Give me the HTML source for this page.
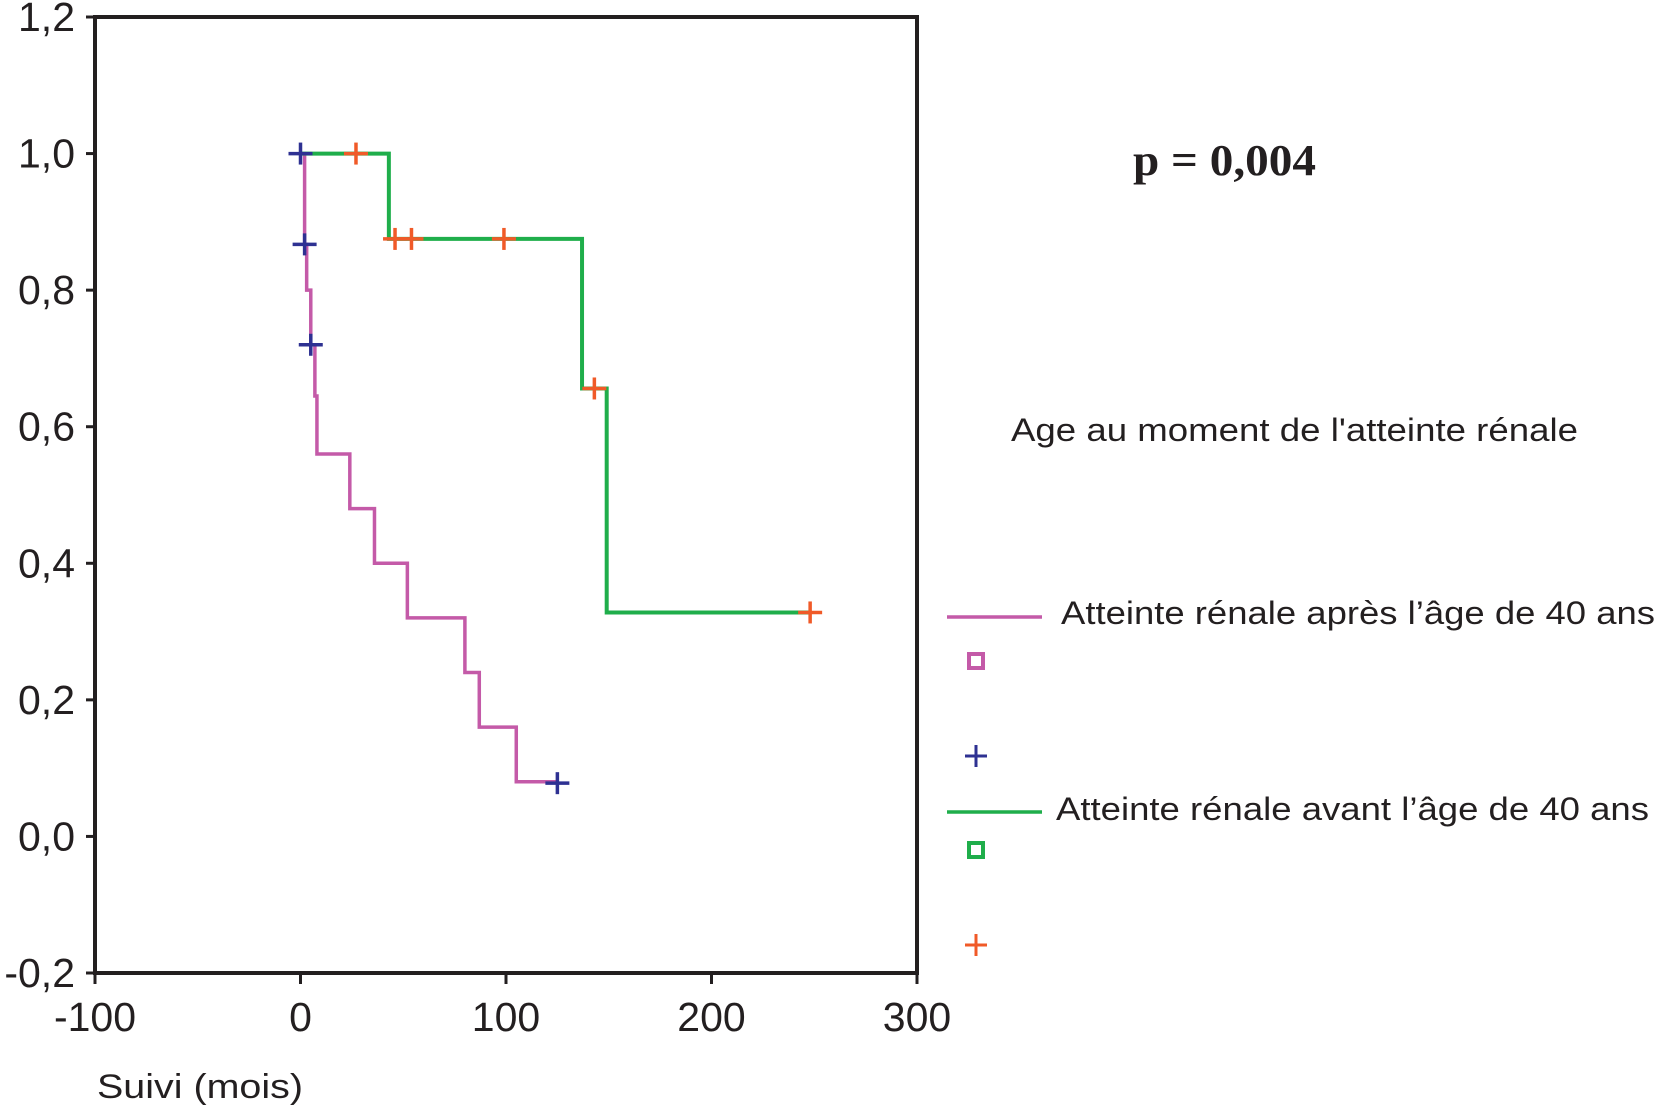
<!DOCTYPE html>
<html><head><meta charset="utf-8"><style>
html,body{margin:0;padding:0;background:#fff;}
svg{display:block;}
text{font-family:"Liberation Sans",sans-serif;fill:#231f20;}
</style></head><body>
<svg id="chart" width="1658" height="1111" viewBox="0 0 1658 1111">
<rect x="95" y="17" width="822" height="956" fill="none" stroke="#231f20" stroke-width="4"/>
<g id="axes"></g>
<g id="series"></g>
<text x="1133" y="175" font-weight="bold" font-size="44" textLength="183" lengthAdjust="spacingAndGlyphs" style="font-family:'Liberation Serif',serif">p = 0,004</text>
<text x="1011" y="441" font-size="32" textLength="567" lengthAdjust="spacingAndGlyphs">Age au moment de l'atteinte rénale</text>
<line x1="947" y1="617" x2="1042" y2="617" stroke="#c45aa8" stroke-width="3.5"/>
<text x="1061" y="624" font-size="32" textLength="594" lengthAdjust="spacingAndGlyphs">Atteinte rénale après l’âge de 40 ans</text>
<rect x="969" y="654" width="14" height="14" fill="none" stroke="#c45aa8" stroke-width="4"/>
<g stroke="#2e3192" stroke-width="3"><line x1="965" y1="756" x2="987" y2="756"/><line x1="976" y1="745" x2="976" y2="767"/></g>
<line x1="947" y1="812" x2="1042" y2="812" stroke="#1fae4b" stroke-width="3.5"/>
<text x="1056" y="820" font-size="32" textLength="593" lengthAdjust="spacingAndGlyphs">Atteinte rénale avant l’âge de 40 ans</text>
<rect x="969" y="843" width="14" height="14" fill="none" stroke="#1fae4b" stroke-width="4"/>
<g stroke="#f05a28" stroke-width="3"><line x1="965" y1="945" x2="987" y2="945"/><line x1="976" y1="934" x2="976" y2="956"/></g>
<text x="97" y="1098" font-size="34" textLength="206" lengthAdjust="spacingAndGlyphs">Suivi (mois)</text>
</svg>
<script>
const xTicks=[-100,0,100,200,300];
const yTicks=[-0.2,0,0.2,0.4,0.6,0.8,1.0,1.2];
const yTickLabels=["-0,2","0,0","0,2","0,4","0,6","0,8","1,0","1,2"];
const apresTimes=[0,2,3,5,7,8,24,36,52,80,87,105];
const apresSurv=[1,0.867,0.8,0.72,0.645,0.56,0.48,0.40,0.32,0.24,0.16,0.08];
const apresEnd=125;
const apresCensorT=[0,2,5,125];
const apresCensorS=[1,0.867,0.72,0.078];
const avantTimes=[0,43,137,149];
const avantSurv=[1,0.875,0.656,0.328];
const avantEnd=248;
const avantCensorT=[27,46,54,99,143,248];
const avantCensorS=[1,0.875,0.875,0.875,0.656,0.328];

const NS="http://www.w3.org/2000/svg";
function X(v){return 95+(v+100)*822/400;}
function Y(v){return 973-(v+0.2)*956/1.4;}
const axes=document.getElementById('axes');
const series=document.getElementById('series');
function mk(tag,attrs,parent){const e=document.createElementNS(NS,tag);for(const k in attrs)e.setAttribute(k,attrs[k]);parent.appendChild(e);return e;}
yTicks.forEach((v,i)=>{
  const l=mk('line',{x1:86,x2:95,y1:Y(v),y2:Y(v),stroke:'#231f20','stroke-width':3},axes);
  
  
  const t=mk('text',{x:75,y:Y(v)+14,'text-anchor':'end','font-size':41},axes);
  t.textContent=yTickLabels[i];
  
  
});
xTicks.forEach(v=>{
  const l=mk('line',{x1:X(v),x2:X(v),y1:973,y2:984,stroke:'#231f20','stroke-width':3},axes);
  
  
  const t=mk('text',{x:X(v),y:1031,'text-anchor':'middle','font-size':41},axes);
  t.textContent=String(v);
  
  
});
function stepPath(ts,ss,end){
  let d='M'+X(ts[0])+','+Y(ss[0]);
  for(let i=1;i<ts.length;i++){d+=' H'+X(ts[i])+' V'+Y(ss[i]);}
  d+=' H'+X(end);return d;
}
const p1=mk('path',{d:stepPath(apresTimes,apresSurv,apresEnd),fill:'none',stroke:'#c45aa8','stroke-width':3.5},series);


const p2=mk('path',{d:stepPath(avantTimes,avantSurv,avantEnd),fill:'none',stroke:'#1fae4b','stroke-width':4},series);


function censor(t,s,col,name){
  const g=mk('g',{stroke:col,'stroke-width':3.5},series);
  
  
  mk('line',{x1:X(t)-12,x2:X(t)+12,y1:Y(s),y2:Y(s)},g);
  mk('line',{x1:X(t),x2:X(t),y1:Y(s)-11,y2:Y(s)+11},g);
}
apresCensorT.forEach((t,i)=>censor(t,apresCensorS[i],'#2e3192','censor-apres'));
avantCensorT.forEach((t,i)=>censor(t,avantCensorS[i],'#f05a28','censor-avant'));
</script>
</body></html>
